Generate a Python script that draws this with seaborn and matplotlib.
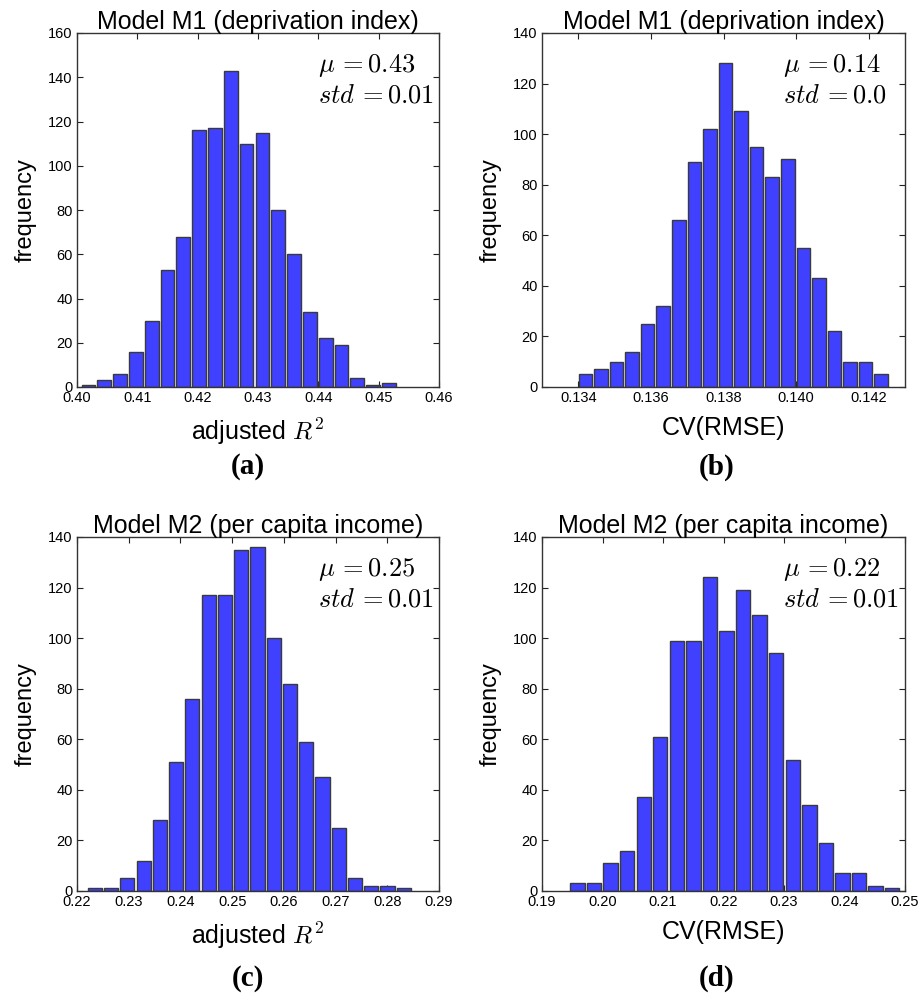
import numpy as np
import pandas as pd
import matplotlib
matplotlib.use("Agg")
import matplotlib.pyplot as plt
import seaborn as sns

# ---------------- data ----------------
titles = ["Model M1 (deprivation index)", "Model M1 (deprivation index)",
          "Model M2 (per capita income)", "Model M2 (per capita income)"]
xlabels = [r"adjusted $R^2$", "CV(RMSE)", r"adjusted $R^2$", "CV(RMSE)"]
panel_tags = ["(a)", "(b)", "(c)", "(d)"]
stats_mu = ["0.43", "0.14", "0.25", "0.22"]
stats_std = ["0.01", "0.0", "0.01", "0.01"]

counts_a = [1, 3, 6, 16, 30, 53, 68, 116, 117, 143, 110, 115, 80, 60, 34, 22, 19, 4, 1, 2]
counts_b = [5, 7, 10, 14, 25, 32, 66, 89, 102, 128, 109, 95, 83, 90, 55, 43, 22, 10, 10, 5]
counts_c = [1, 1, 5, 12, 28, 51, 76, 117, 117, 135, 136, 100, 82, 59, 45, 25, 5, 2, 2, 1]
counts_d = [3, 3, 11, 16, 37, 61, 99, 99, 124, 103, 119, 109, 94, 52, 34, 19, 7, 7, 2, 1]

range_a = [0.4006, 0.4530]
range_b = [0.13398, 0.14256]
range_c = [0.22189, 0.28475]
range_d = [0.19449, 0.24926]

xlim_a = [0.40, 0.46]
xlim_b = [0.133, 0.143]
xlim_c = [0.22, 0.29]
xlim_d = [0.19, 0.25]

xticks_a = [0.40, 0.41, 0.42, 0.43, 0.44, 0.45, 0.46]
xticks_b = [0.134, 0.136, 0.138, 0.140, 0.142]
xticks_c = [0.22, 0.23, 0.24, 0.25, 0.26, 0.27, 0.28, 0.29]
xticks_d = [0.19, 0.20, 0.21, 0.22, 0.23, 0.24, 0.25]
xtick_fmt = ["%.2f", "%.3f", "%.2f", "%.2f"]

ymax = [160, 140, 140, 140]

# ---------------- style ----------------
sns.set_style("white")
plt.rcParams["font.family"] = ["Liberation Sans", "DejaVu Sans"]
plt.rcParams["mathtext.fontset"] = "cm"
plt.rcParams["text.color"] = "black"
plt.rcParams["axes.labelcolor"] = "black"
plt.rcParams["xtick.color"] = "black"
plt.rcParams["ytick.color"] = "black"

W, H = 919, 994
fig = plt.figure(figsize=(W / 100, H / 100), dpi=100)

# axes rectangles in pixels: left, top, right, bottom
rects_px = [(77, 33, 439, 387), (542, 33, 905, 387),
            (77, 537, 439, 891), (542, 537, 905, 891)]
tag_pos_px = [(248, 467), (717, 467), (248, 978), (717, 978)]

all_counts = [counts_a, counts_b, counts_c, counts_d]
all_ranges = [range_a, range_b, range_c, range_d]
all_xlims = [xlim_a, xlim_b, xlim_c, xlim_d]
all_xticks = [xticks_a, xticks_b, xticks_c, xticks_d]

for i in range(4):
    l, t, r, b = rects_px[i]
    ax = fig.add_axes([l / W, 1 - b / H, (r - l) / W, (b - t) / H])
    counts = np.array(all_counts[i], dtype=float)
    edges = np.linspace(all_ranges[i][0], all_ranges[i][1], len(counts) + 1)
    centers = 0.5 * (edges[:-1] + edges[1:])
    df = pd.DataFrame({"value": centers, "count": counts})
    sns.histplot(data=df, x="value", weights="count", bins=edges.tolist(),
                 shrink=0.87, color="#4040ff", alpha=1.0, edgecolor="#3a3a3a",
                 linewidth=1.0, ax=ax)
    ax.set_xlim(*all_xlims[i])
    ax.set_ylim(0, ymax[i])
    ax.set_xticks(all_xticks[i])
    ax.set_xticklabels([xtick_fmt[i] % v for v in all_xticks[i]])
    ax.set_yticks(np.arange(0, ymax[i] + 1, 20))
    ax.tick_params(direction="in", length=4, width=0.8, top=True, right=True,
                   bottom=True, left=True, labelsize=10.5, pad=3,
                   colors="#222222", labelcolor="black")
    for s in ax.spines.values():
        s.set_color("#333333")
        s.set_linewidth(1.0)
    ax.set_title(titles[i], fontsize=18, pad=3, color="black")
    ax.set_xlabel(xlabels[i], fontsize=18, labelpad=8, color="black")
    ax.set_ylabel("frequency", fontsize=17, labelpad=8, color="black")
    ax.text(0.665, 0.945, r"$\mu\,=$" + r"$%s$" % stats_mu[i] + "\n" +
            r"$std\,=$" + r"$%s$" % stats_std[i],
            transform=ax.transAxes, ha="left", va="top", fontsize=19,
            linespacing=1.2, color="black")
    tx, ty = tag_pos_px[i]
    fig.text(tx / W, 1 - ty / H, panel_tags[i], ha="center", va="center",
             fontsize=21, fontweight="bold", color="black",
             family=["Liberation Serif", "DejaVu Serif"])

fig.savefig("out.png", dpi=100)
